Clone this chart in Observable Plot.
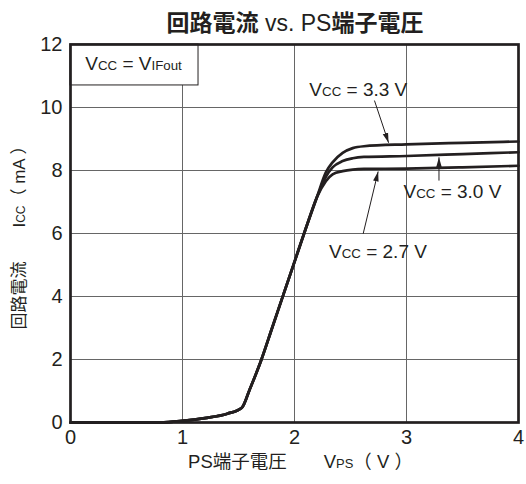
<!DOCTYPE html>
<html><head><meta charset="utf-8">
<script src="https://cdn.jsdelivr.net/npm/d3@7"></script>
<script src="https://cdn.jsdelivr.net/npm/@observablehq/plot@0.6"></script>
<style>
body{margin:0;background:#fff;}
#title{height:32px;text-align:center;font-size:23px;line-height:46px;color:#231f20;
 font-family:'Liberation Sans','Noto Sans CJK JP',sans-serif;white-space:nowrap;padding-left:64px;width:462px;}
#title b{font-weight:bold;}
</style></head>
<body>
<div id="title"><b>回路電流</b> vs. PS<b>端子電圧</b></div>
<div id="chart"></div>
<script>
// ---- data ----
const xTicks = [0, 1, 2, 3, 4];
const yTicks = [0, 2, 4, 6, 8, 10, 12];
const xGrid = [1, 2, 3];
const yGrid = [2, 4, 6, 8, 10];
// shared rising part (all Vcc)
const vpsRise = [0, 0.8, 1.0, 1.2, 1.4, 1.53, 1.6, 1.7, 1.8, 1.9, 2.0, 2.1, 2.2];
const iccRise = [0, 0, 0.05, 0.14, 0.28, 0.47, 1.05, 1.95, 3.0, 4.05, 5.1, 6.15, 7.15];
// saturating part per Vcc
const vpsFlat = [2.28, 2.34, 2.43, 2.52, 2.62, 3.0, 3.5, 4.0];
const icc33 = [7.94, 8.26, 8.56, 8.71, 8.77, 8.83, 8.88, 8.92];
const icc30 = [7.80, 8.10, 8.30, 8.39, 8.43, 8.46, 8.52, 8.58];
const icc27 = [7.66, 7.88, 7.98, 8.03, 8.05, 8.06, 8.10, 8.15];
const seriesNames = ["3.3", "3.0", "2.7"];
// annotations
const labelText = ["V_{CC} = 3.3 V", "V_{CC} = 3.0 V", "V_{CC} = 2.7 V"];
const labelX = [2.57, 3.41, 2.745];
const labelY = [10.57, 7.31, 5.41];
const arrowFromX = [2.714, 3.29, 2.613];
const arrowFromY = [10.22, 7.68, 5.99];
const arrowToX = [2.84, 3.29, 2.747];
const arrowToY = [8.88, 8.42, 7.97];
const legendText = "V_{CC} = V_{IFout}";
const legendBox = {x1: 0, x2: 1.143, y1: 10.7, y2: 12, tx: 0.5625, ty: 11.39};
const xLabel = "PS端子電圧　　V_{PS}（ V ）";
const yLabel = "回路電流　　I_{CC}（ mA ）";

// ---- build tables ----
const flatSeries = [icc33, icc30, icc27];
const rows = [];
seriesNames.forEach((name, k) => {
  vpsRise.forEach((x, i) => rows.push({s: name, x, y: iccRise[i]}));
  vpsFlat.forEach((x, i) => rows.push({s: name, x, y: flatSeries[k][i]}));
});
const labels = labelText.map((t, i) => ({t, x: labelX[i], y: labelY[i]}));
const arrows = arrowFromX.map((_, i) => ({x1: arrowFromX[i], y1: arrowFromY[i], x2: arrowToX[i], y2: arrowToY[i]}));

const ink = "#231f20";
const font = "'Liberation Sans','Noto Sans CJK JP',sans-serif";

function filledArrow(color, context) {
  const ns = "http://www.w3.org/2000/svg";
  const doc = (context && context.document) || document;
  const m = doc.createElementNS(ns, "marker");
  m.setAttribute("viewBox", "-10 -4 10 8");
  m.setAttribute("refX", "0"); m.setAttribute("refY", "0");
  m.setAttribute("markerWidth", "10"); m.setAttribute("markerHeight", "8");
  m.setAttribute("markerUnits", "userSpaceOnUse");
  m.setAttribute("orient", "auto");
  const p = doc.createElementNS(ns, "path");
  p.setAttribute("d", "M-10,-2.8L0,0L-10,2.8Z");
  p.setAttribute("fill", color); p.setAttribute("stroke", "none");
  m.appendChild(p);
  return m;
}

const chart = Plot.plot({
  width: 526, height: 452,
  marginLeft: 70, marginRight: 8, marginTop: 12, marginBottom: 62,
  style: {fontFamily: font, fontSize: "20px", color: ink, background: "#fff", overflow: "visible"},
  x: {domain: [0, 4], ticks: xTicks, tickSize: 0, tickPadding: 7, label: null, tickFormat: d => String(d)},
  y: {domain: [0, 12], ticks: yTicks, tickSize: 0, tickPadding: 8, label: null, tickFormat: d => String(d)},
  marks: [
    Plot.ruleX(xGrid, {stroke: "#666", strokeWidth: 1}),
    Plot.ruleY(yGrid, {stroke: "#666", strokeWidth: 1}),
    Plot.rect([legendBox], {x1: "x1", x2: "x2", y1: "y1", y2: "y2", fill: "white", stroke: ink, strokeWidth: 1}),
    Plot.text([legendBox], {x: "tx", y: "ty", text: () => legendText, fontSize: 19, fill: ink}),
    Plot.line(rows, {x: "x", y: "y", z: "s", stroke: ink, strokeWidth: 2.7, curve: "monotone-x"}),
    Plot.link(arrows, {x1: "x1", y1: "y1", x2: "x2", y2: "y2", stroke: ink, strokeWidth: 1, markerEnd: filledArrow}),
    Plot.text(labels, {x: "x", y: "y", text: "t", fontSize: 19, fill: ink}),
    Plot.text([xLabel], {text: d => d, frameAnchor: "bottom", textAnchor: "middle", dx: 6, dy: 45, fontSize: 18.5, fill: ink}),
    Plot.text([yLabel], {text: d => d, frameAnchor: "left", textAnchor: "middle", dx: -51, rotate: -90, fontSize: 17, fill: ink}),
    Plot.frame({stroke: ink, strokeWidth: 2.7})
  ]
});

// small-size parts written as _{...}
chart.querySelectorAll("text").forEach(el => {
  const s = el.textContent;
  if (!s.includes("_{")) return;
  while (el.firstChild) el.removeChild(el.firstChild);
  const re = /_\{([^}]*)\}/g;
  let last = 0, m;
  const add = (txt, small) => {
    if (!txt) return;
    const t = document.createElementNS("http://www.w3.org/2000/svg", "tspan");
    t.textContent = txt;
    if (small) t.setAttribute("font-size", "0.7em");
    el.appendChild(t);
  };
  while ((m = re.exec(s))) { add(s.slice(last, m.index), false); add(m[1], true); last = re.lastIndex; }
  add(s.slice(last), false);
});

document.getElementById("chart").appendChild(chart);
</script>
</body></html>
